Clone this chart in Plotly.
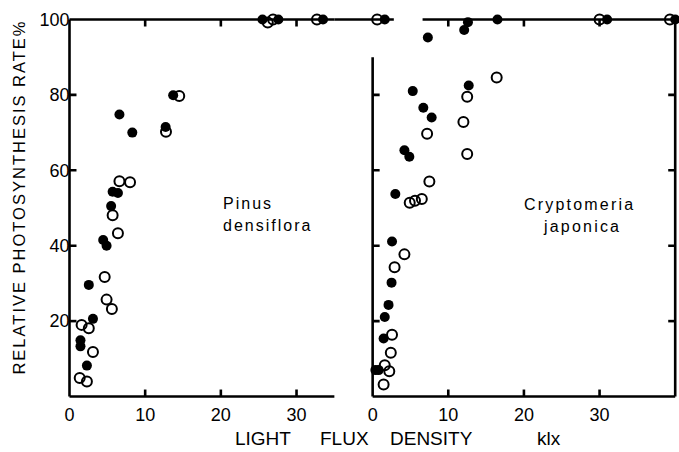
import plotly.graph_objects as go

# ---------------- data ----------------
pinus_filled_x = [1.45, 1.45, 2.3, 2.55, 3.1, 4.45, 4.9, 5.5, 5.7, 6.4, 6.6, 8.3, 12.7, 13.7, 25.5, 27.6, 33.5]
pinus_filled_y = [14.9, 13.3, 8.2, 29.6, 20.6, 41.5, 40.0, 50.5, 54.3, 54.0, 74.8, 70.0, 71.5, 79.9, 100, 100, 100]
pinus_open_x = [1.35, 2.3, 1.6, 2.55, 3.1, 4.65, 4.9, 5.6, 5.7, 6.4, 6.6, 8.0, 12.75, 14.5, 26.2, 26.9, 32.7]
pinus_open_y = [4.9, 4.0, 19.0, 18.1, 11.8, 31.7, 25.7, 23.2, 48.1, 43.3, 57.1, 56.8, 70.2, 79.7, 99.2, 100, 100]

crypt_filled_x = [0.36, 0.8, 1.45, 1.6, 2.1, 2.5, 2.56, 3.0, 4.2, 4.85, 5.3, 6.7, 7.8, 7.3, 12.7, 12.1, 12.6, 16.5, 1.6, 31.0, 40.0]
crypt_filled_y = [7.0, 7.0, 15.4, 21.1, 24.3, 30.2, 41.1, 53.7, 65.3, 63.6, 81.0, 76.6, 74.0, 95.2, 82.5, 97.2, 99.3, 100, 100, 100, 100]
crypt_open_x = [1.45, 1.6, 2.2, 2.4, 2.56, 2.9, 4.2, 4.9, 5.6, 6.5, 7.5, 7.2, 12.0, 12.5, 12.5, 16.4, 0.6, 30.0, 39.3]
crypt_open_y = [3.2, 8.3, 6.7, 11.6, 16.4, 34.3, 37.7, 51.4, 51.9, 52.4, 57.0, 69.7, 72.8, 79.5, 64.3, 84.6, 100, 100, 100]

left_xticks = [0, 10, 20, 30]
right_xticks = [0, 10, 20, 30, 40]
yticks = [20, 40, 60, 80, 100]
left_xmax = 35
right_xmax = 40
ymax = 100
right_left_spine_top = 90
top_gap = [2.8, 6.6]   # break in the 100 % line (right panel units)

# ---------------- layout geometry (pixels) ----------------
W, H = 679, 452
X0_L, X35_L = 69.0, 334.0       # left panel: x=0 and x=35
X0_R, X40_R = 372.3, 675.0      # right panel: x=0 and x=40
Y100, Y0 = 19.0, 397.0
PAD = 5.5                       # room around the frame so edge lines are not clipped

sx = (X35_L - X0_L) / left_xmax
sy = (Y0 - Y100) / ymax
padx, pady = PAD / sx, PAD / sy

L_left, L_right = X0_L - PAD, X35_L + PAD
R_left, R_right = X0_R - PAD, min(W - 0.2, X40_R + PAD)
ML, MR = L_left, W - R_right
MT, MB = Y100 - PAD, H - (Y0 + PAD)
PW = W - ML - MR
dom1 = [0.0, (L_right - ML) / PW]
dom2 = [(R_left - ML) / PW, 1.0]
xr1 = [-padx, left_xmax + padx]
xr2 = [-padx, right_xmax + (R_right - X40_R) / sx]
yr = [-pady, ymax + pady]
FONT = "Liberation Sans"
LW = 2.6

def pxp(p):
    return (p - ML) / PW

def pyp(p):
    return (H - MB - p) / (H - MT - MB)

tl_x = 7 / sx   # tick length in x units
tl_y = 7 / sy   # tick length in y units

def frame_trace(segs, xa, ya):
    xs, ys = [], []
    for (xa0, ya0, xa1, ya1) in segs:
        xs += [xa0, xa1, None]
        ys += [ya0, ya1, None]
    return go.Scatter(x=xs, y=ys, mode="lines", line=dict(color="black", width=LW),
                      xaxis=xa, yaxis=ya, hoverinfo="skip", showlegend=False,
                      connectgaps=False)

# left panel frame + inside ticks
segL = [(0, 0, 0, ymax), (0, 0, left_xmax, 0), (0, ymax, left_xmax, ymax)]
segL += [(t, 0, t, tl_y) for t in left_xticks[1:]]
segL += [(t, ymax, t, ymax - tl_y) for t in left_xticks[1:]]
segL += [(0, v, tl_x, v) for v in yticks[:-1]]
# right panel frame + inside ticks
segR = [(0, 0, 0, right_left_spine_top), (0, 0, right_xmax, 0), (right_xmax, 0, right_xmax, ymax),
        (0, ymax, top_gap[0], ymax), (top_gap[1], ymax, right_xmax, ymax)]
segR += [(t, 0, t, tl_y) for t in right_xticks[1:-1]]
segR += [(t, ymax, t, ymax - tl_y) for t in right_xticks[1:-1]]
segR += [(0, v, tl_x, v) for v in yticks[:-1]]
segR += [(right_xmax, v, right_xmax - tl_x, v) for v in yticks[:-1]]

fig = go.Figure()
fig.add_trace(frame_trace(segL, "x", "y"))
fig.add_trace(frame_trace(segR, "x2", "y2"))

filled = dict(symbol="circle", size=10, color="black")
opened = dict(symbol="circle-open", size=10, color="black", line=dict(width=2))

fig.add_trace(go.Scatter(x=pinus_open_x, y=pinus_open_y, mode="markers", marker=opened,
                         xaxis="x", yaxis="y", cliponaxis=False, showlegend=False))
fig.add_trace(go.Scatter(x=pinus_filled_x, y=pinus_filled_y, mode="markers", marker=filled,
                         xaxis="x", yaxis="y", cliponaxis=False, showlegend=False))
fig.add_trace(go.Scatter(x=crypt_open_x, y=crypt_open_y, mode="markers", marker=opened,
                         xaxis="x2", yaxis="y2", cliponaxis=False, showlegend=False))
fig.add_trace(go.Scatter(x=crypt_filled_x, y=crypt_filled_y, mode="markers", marker=filled,
                         xaxis="x2", yaxis="y2", cliponaxis=False, showlegend=False))

tickfont = dict(family=FONT, size=18, color="black")
ax = dict(showline=False, ticks="", showgrid=False, zeroline=False, tickfont=tickfont)

fig.update_layout(
    template="none",
    showlegend=False,
    width=W, height=H,
    margin=dict(l=ML, r=MR, t=MT, b=MB, autoexpand=False),
    xaxis=dict(domain=dom1, range=xr1, tickvals=left_xticks, anchor="y", **ax),
    xaxis2=dict(domain=dom2, range=xr2, tickvals=right_xticks, anchor="y2", **ax),
    yaxis=dict(range=yr, tickvals=yticks, anchor="free", position=pxp(X0_L), **ax),
    yaxis2=dict(range=yr, tickvals=yticks, anchor="x2", showticklabels=False, **ax),
)

# 100 % line continues through the space between the two panels
fig.update_layout(shapes=[dict(type="line", xref="paper", yref="paper", layer="above",
                               x0=pxp(X35_L), x1=pxp(X0_R), y0=pyp(Y100), y1=pyp(Y100),
                               line=dict(color="black", width=LW))])

def spaced(t, s):
    return '<span style="letter-spacing:%spx">%s</span>' % (s, t)

lab = dict(family=FONT, size=16, color="black")
title_font = dict(family=FONT, size=19, color="black")
ann = [
    dict(text=spaced("RELATIVE PHOTOSYNTHESIS RATE%", 2.0), x=pxp(19), y=pyp(197), textangle=-90,
         xanchor="center", yanchor="middle", font=dict(family=FONT, size=16.5, color="black")),
    dict(text="LIGHT", x=pxp(233), y=pyp(452), xanchor="left", yanchor="bottom", font=title_font),
    dict(text="FLUX", x=pxp(318), y=pyp(452), xanchor="left", yanchor="bottom", font=title_font),
    dict(text="DENSITY", x=pxp(388), y=pyp(452), xanchor="left", yanchor="bottom", font=title_font),
    dict(text="klx", x=pxp(535), y=pyp(452), xanchor="left", yanchor="bottom", font=title_font),
    dict(text=spaced("Pinus", 2), x=pxp(221), y=pyp(203), xanchor="left", yanchor="middle", font=lab),
    dict(text=spaced("densiflora", 2), x=pxp(221), y=pyp(226), xanchor="left", yanchor="middle", font=lab),
    dict(text=spaced("Cryptomeria", 2.2), x=pxp(522), y=pyp(204), xanchor="left", yanchor="middle", font=lab),
    dict(text=spaced("japonica", 2.2), x=pxp(541), y=pyp(227), xanchor="left", yanchor="middle", font=lab),
]
fig.update_layout(annotations=[dict(xref="paper", yref="paper", showarrow=False, **a) for a in ann])

fig.write_html("out.html")
